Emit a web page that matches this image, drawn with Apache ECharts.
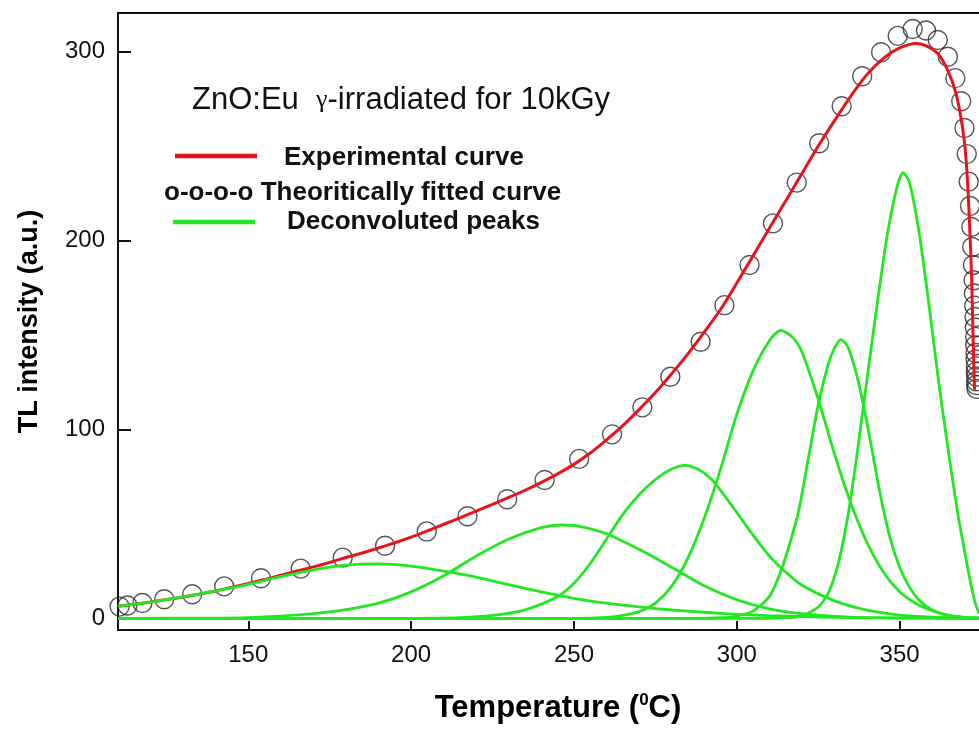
<!DOCTYPE html>
<html>
<head>
<meta charset="utf-8">
<script src="https://cdn.jsdelivr.net/npm/echarts@6/dist/echarts.min.js"></script>
<style>
html,body{margin:0;padding:0;background:#fff;overflow:hidden;}
#chart{width:979px;height:732px;}
</style>
</head>
<body>
<div id="chart"></div>
<script>
// ---- tick labels ----
const tempTicks = [150, 200, 250, 300, 350];
const intensityTicks = [0, 100, 200, 300];

// ---- Experimental curve (red line): [Temperature, TL intensity] ----
const experimentalCurve = [
  [110, 6.4], [115, 7.4], [120, 8.6], [125, 9.9], [130, 11.3], [135, 12.8], [140, 14.5], [145, 16.4],
  [150, 18.4], [155, 20.5], [160, 22.8], [165, 25.0], [170, 27.2], [175, 29.6], [180, 32.2], [185, 34.6],
  [190, 37.2], [195, 40.0], [200, 43.0], [205, 46.3], [210, 49.8], [215, 53.2], [220, 56.8], [225, 60.3],
  [230, 64.0], [235, 67.8], [240, 72.0], [245, 76.5], [250, 81.5], [255, 87.5], [260, 94.5], [265, 102],
  [270, 110.5], [275, 119.5], [280, 129.5], [285, 140], [290, 151.5], [295, 163.5], [300, 177.5],
  [305, 192], [310, 206.5], [315, 221], [320, 235.5], [325, 250], [330, 263.5], [335, 276.5], [340, 288],
  [345, 296.5], [350, 302], [355, 304.4], [358, 303.2], [361.7, 299], [364.8, 290], [367.3, 278],
  [369.3, 260], [370.4, 243], [371.4, 212], [372.1, 180], [372.6, 145], [373.0, 121]
];

// ---- Theoretically fitted curve (open circles) ----
const fittedCurve = [
  [110.5, 6.2], [112.9, 6.8], [117.5, 8.1], [124.2, 10.1], [132.8, 12.7], [142.6, 16.9], [153.9, 21.2],
  [166.1, 26.3], [179.0, 32.1], [192.0, 38.4], [204.8, 46.0], [217.3, 54.0], [229.5, 63.0], [241.0, 73.2],
  [251.6, 84.4], [261.7, 97.4], [271.0, 111.7], [279.6, 127.9], [288.9, 146.4], [296.2, 165.8],
  [303.9, 187.1], [311.1, 209.1], [318.4, 230.7], [325.3, 251.5], [332.2, 271.1], [338.5, 287.0],
  [344.3, 299.7], [349.4, 308.4], [354.0, 312.0], [358.1, 311.2], [361.7, 306.2], [364.8, 297.3],
  [367.1, 286.0], [368.9, 273.8], [369.9, 259.6], [370.6, 245.8], [371.2, 231.2], [371.6, 218.3],
  [372.0, 207.2], [372.3, 196.6], [372.5, 187.1], [372.7, 179], [372.8, 172], [372.9, 165.5],
  [373.0, 159.5], [373.1, 154], [373.2, 149], [373.2, 144.5], [373.3, 140.5], [373.3, 137],
  [373.4, 133.5], [373.4, 130.5], [373.5, 128], [373.5, 125.5], [373.5, 123.5], [373.6, 121.5]
];

// ---- Deconvoluted peaks (green lines) ----
const peak1 = [
  [110, 6.4], [120, 8.6], [130, 11.3], [140, 14.5], [150, 18.0], [160, 22.0], [170, 25.6], [180, 28.1],
  [190, 28.8], [200, 27.6], [210, 25.0], [220, 21.8], [230, 17.8], [240, 14.0], [250, 10.6], [260, 8.0],
  [270, 6.0], [280, 4.4], [290, 3.2], [300, 2.1], [310, 1.4], [320, 0.9], [330, 0.5], [345, 0.2],
  [360, 0.05], [380.2, 0]
];
const peak2 = [
  [110, 0], [140, 0.1], [150, 0.4], [160, 1.2], [170, 2.5], [180, 4.6], [190, 8.0], [200, 14.0],
  [210, 22.5], [220, 33.0], [230, 42.0], [240, 48.0], [246, 49.4], [252, 48.6], [260, 44.8], [270, 36.5],
  [280, 27.0], [290, 17.2], [300, 9.8], [310, 5.0], [320, 2.4], [330, 1.0], [340, 0.4], [355, 0.1],
  [380.2, 0]
];
const peak3 = [
  [110, 0], [200, 0], [215, 0.3], [225, 1.5], [235, 4.5], [245, 11.5], [250, 18.5], [255, 29], [260, 42],
  [265, 55], [270, 65.5], [275, 73.5], [280, 79], [284, 81], [288, 79], [292, 74], [296, 65.5], [300, 56],
  [305, 44], [310, 33], [315, 24.5], [320, 17.5], [330, 9.2], [340, 4.3], [350, 1.7], [360, 0.6],
  [370, 0.2], [380.2, 0]
];
const peak4 = [
  [110, 0], [250, 0], [260, 0.5], [265, 1.5], [270, 3.5], [275, 8.0], [280, 17], [285, 32], [290, 53],
  [295, 79], [300, 108], [305, 131], [310, 147], [313.5, 152.5], [317, 149], [320, 141], [325, 116],
  [330, 87], [335, 61], [340, 40], [345, 24.5], [350, 14], [355, 7.8], [360, 4.0], [365, 1.6], [370, 0.5],
  [375, 0.1], [380.2, 0]
];
const peak5 = [
  [110, 0], [285, 0], [295, 0.3], [300, 1.2], [305, 3.8], [310, 11.5], [313, 22.5], [316, 38], [319, 57],
  [322, 85], [325, 113], [328, 134], [330, 143], [332, 147.5], [334, 144], [336, 134], [338, 120],
  [341, 94], [344, 66], [347, 43], [350, 27], [353, 16.5], [356, 9.5], [360, 4.4], [365, 1.5], [370, 0.4],
  [375, 0.1], [380.2, 0]
];
const peak6 = [
  [110, 0], [310, 0], [315, 0.3], [320, 1.3], [325, 6], [328, 13], [331, 28], [334, 53], [337, 88],
  [340, 127], [343, 165], [346, 201], [349, 227], [351, 236], [353, 231], [356, 204], [359, 166],
  [362, 125], [365, 88], [368, 54], [370, 35], [372, 17], [373.5, 6.5], [375, 1.5], [376.5, 0], [380.2, 0]
];
const peaks = [peak1, peak2, peak3, peak4, peak5, peak6];

// ---- text ----
const titleText = 'ZnO:Eu  {g|γ}-irradiated for 10kGy';
const legendTexts = ['Experimental curve', 'o-o-o-o Theoritically fitted curve', 'Deconvoluted peaks'];

const FONT = '"Liberation Sans", Arial, Helvetica, sans-serif';
const RED = '#e8141b';
const GREEN = '#22e822';

const chart = echarts.init(document.getElementById('chart'), null, {renderer: 'canvas'});

const series = [];
series.push({
  type: 'scatter', name: 'fitted', data: fittedCurve, symbol: 'circle', symbolSize: 19,
  itemStyle: {color: 'rgba(0,0,0,0)', borderColor: '#2a2a2a', borderWidth: 1.4},
  z: 2, silent: true, clip: true
});
series.push({
  type: 'line', name: 'experimental', data: experimentalCurve, showSymbol: false, smooth: 0.25,
  lineStyle: {color: RED, width: 3}, z: 3, silent: true
});
peaks.forEach((p, i) => series.push({
  type: 'line', name: 'peak' + (i + 1), data: p, showSymbol: false, smooth: 0.25,
  lineStyle: {color: GREEN, width: 2.8}, z: 4, silent: true
}));

const option = {
  backgroundColor: '#ffffff',
  animation: false,
  grid: {left: 118, top: 13, right: -19, bottom: 102, outerBoundsMode: 'none', containLabel: false,
    show: true, borderColor: '#111', borderWidth: 2},
  xAxis: {
    type: 'value', min: 110, max: 380.2,
    name: 'Temperature ({s|0}C)', nameLocation: 'middle', nameGap: 62,
    nameTextStyle: {fontFamily: FONT, fontSize: 31, fontWeight: 'bold', color: '#000',
      rich: {s: {fontFamily: FONT, fontSize: 17, fontWeight: 'bold', color: '#000', verticalAlign: 'top', padding: [0, 0, 16, 0]}}},
    axisLine: {show: true, onZero: false, lineStyle: {color: '#111', width: 2}},
    axisTick: {show: true, inside: true, length: 9, lineStyle: {color: '#111', width: 2}, customValues: tempTicks},
    axisLabel: {customValues: tempTicks, fontFamily: FONT, fontSize: 24, color: '#111', margin: 13},
    splitLine: {show: false}
  },
  yAxis: {
    type: 'value', min: -6.2, max: 320.5,
    name: 'TL intensity (a.u.)', nameLocation: 'middle', nameGap: 75, nameRotate: 90,
    nameTextStyle: {fontFamily: FONT, fontSize: 27, fontWeight: 'bold', color: '#000'},
    axisLine: {show: true, onZero: false, lineStyle: {color: '#111', width: 2}},
    axisTick: {show: true, inside: true, length: 13, lineStyle: {color: '#111', width: 2}, customValues: intensityTicks},
    axisLabel: {customValues: intensityTicks, fontFamily: FONT, fontSize: 24, color: '#111', margin: 13},
    splitLine: {show: false}
  },
  graphic: [
    {type: 'text', left: 192, top: 85, z: 10, style: {
      text: titleText, fontFamily: FONT, fontSize: 31, fill: '#111',
      rich: {g: {fontFamily: '"Liberation Serif", "DejaVu Serif", serif', fontSize: 26, fill: '#111'}}}},
    {type: 'line', z: 10, shape: {x1: 175, y1: 156, x2: 257, y2: 156}, style: {stroke: RED, lineWidth: 4.5}},
    {type: 'text', left: 284, top: 145, z: 10, style: {text: legendTexts[0], fontFamily: FONT, fontSize: 26, fontWeight: 'bold', fill: '#111'}},
    {type: 'text', left: 164, top: 180, z: 10, style: {text: legendTexts[1], fontFamily: FONT, fontSize: 26, fontWeight: 'bold', fill: '#111'}},
    {type: 'line', z: 10, shape: {x1: 173, y1: 222, x2: 255, y2: 222}, style: {stroke: GREEN, lineWidth: 4.5}},
    {type: 'text', left: 287, top: 209, z: 10, style: {text: legendTexts[2], fontFamily: FONT, fontSize: 26, fontWeight: 'bold', fill: '#111'}}
  ],
  series: series
};
chart.setOption(option);
</script>
</body>
</html>
